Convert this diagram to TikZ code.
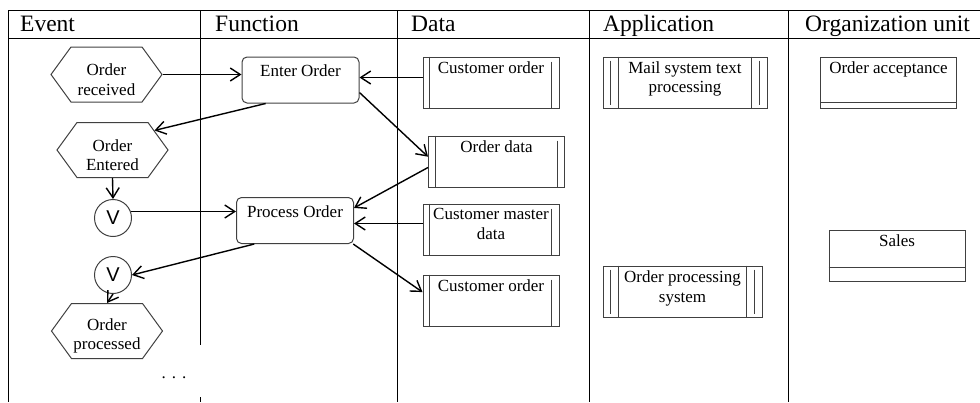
\documentclass[tikz,border=0pt]{standalone}
\usepackage{fontspec}
\setmainfont{Liberation Serif}
\newfontfamily\vfont{Liberation Sans}
\usetikzlibrary{arrows.meta,shapes.symbols}

\begin{document}
\begin{tikzpicture}[x=1pt,y=-1pt,
    every node/.style={font=\fontsize{17}{19.5}\selectfont},
    head/.style={anchor=base west,inner sep=0pt,font=\fontsize{23.5}{28}\selectfont},
    lane/.style={line width=1pt},
    outline/.style={draw=black!75,line width=1pt},
    boxtext/.style={anchor=north,inner sep=5pt,align=center},
    evtext/.style={anchor=center,yshift=-5pt,inner sep=0pt,align=center},
    event/.style={outline,shape=signal,signal to=west and east,signal pointer angle=108,
        minimum width=111pt,minimum height=55pt,inner sep=0pt},
    andop/.style={outline,circle,minimum size=37pt,inner sep=0pt,font=\vfont\fontsize{20}{20}\selectfont},
    func/.style={outline,rounded corners=5pt,minimum width=117pt,minimum height=46pt},
    datum/.style={outline,minimum width=136pt,minimum height=51pt},
    app/.style={outline,minimum height=51pt},
    org/.style={outline,minimum width=136pt,minimum height=51pt},
    link/.style={-{Straight Barb[length=10pt,width=13pt]},line width=1.4pt},
]
    \useasboundingbox (0,0) rectangle (980,402);

    % lanes
    \draw [lane] (8,10) -- (980,10);
    \draw [lane] (8,38) -- (980,38);
    \draw [lane] (8,10) -- (8,402);
    \draw [lane] (200,10) -- (200,345) (200,397) -- (200,402);
    \foreach \x in {397,589,788}
        \draw [lane] (\x,10) -- (\x,402);

    \node [head] (hevent) at (20,31) {Event};
    \node [head] (hfunc) at (215,31) {Function};
    \node [head] (hdata) at (411,31) {Data};
    \node [head] (happ) at (603,31) {Application};
    \node [head] (horg) at (805,31) {Organization unit};

    % events
    \node [event,label={[evtext]center:Order\\received}] (received) at (106.5,74.5) {};
    \node [event,label={[evtext]center:Order\\Entered}] (entered) at (112.5,150) {};
    \node [andop] (and1) at (113,218) {V};
    \node [andop] (and2) at (113,275) {V};
    \node [event,label={[evtext]center:Order\\processed}] (processed) at (107,331) {};
    \node (more) at (174,378) {.\hspace{6pt}.\hspace{6pt}.};

    % functions
    \node [func,label={[boxtext,inner sep=8pt]north:Enter Order}] (enter) at (300.5,80) {};
    \node [func,label={[boxtext,inner sep=8pt]north:Process Order}] (process) at (295,220.5) {};

    % data
    \node [datum,label={[boxtext]north:Customer order}] (custorder) at (491,82.5) {};
    \node [datum,label={[boxtext]north:Order data}] (orderdata) at (496.5,161.5) {};
    \node [datum,label={[boxtext]north:Customer master\\data}] (master) at (491,229.5) {};
    \node [datum,label={[boxtext]north:Customer order}] (custorder2) at (491,300.5) {};
    \foreach \b in {custorder,orderdata,master,custorder2}
        \draw [outline] ([xshift=7pt]\b.north west) -- ([xshift=7pt]\b.south west)
            ([xshift=-8pt,yshift=-5pt]\b.north east) -- ([xshift=-8pt]\b.south east);

    % applications
    \node [app,minimum width=164pt,label={[boxtext]north:Mail system text\\processing}] (mail) at (685,82.5) {};
    \node [app,minimum width=159pt,label={[boxtext]north:Order processing\\system}] (ops) at (682.5,291.5) {};
    \foreach \b in {mail,ops}
        \draw [outline] ([xshift=8pt,yshift=-4pt]\b.north west) -- ([xshift=8pt,yshift=4pt]\b.south west)
            ([xshift=16pt]\b.north west) -- ([xshift=16pt]\b.south west)
            ([xshift=-16pt]\b.north east) -- ([xshift=-16pt]\b.south east)
            ([xshift=-8pt,yshift=-4pt]\b.north east) -- ([xshift=-8pt,yshift=4pt]\b.south east);

    % organization units
    \node [org,label={[boxtext]north:Order acceptance}] (accept) at (888.5,82.5) {};
    \node [org,label={[boxtext]north:Sales}] (sales) at (897,255.5) {};
    \foreach \b/\d in {accept/6,sales/14}
        \draw [outline] ([yshift=\d pt]\b.south west) -- ([yshift=\d pt]\b.south east);

    % flow
    \draw [link] (received.east) -- (received.east -| enter.west);
    \draw [link] ([yshift=5pt]custorder.west) -- ([yshift=5pt]custorder.west -| enter.east);
    \draw [link] (enter.214) -- (entered.25);
    \draw [link] (entered.south) -- (and1.north);
    \draw [link] (enter.-12) -- (orderdata.176);
    \draw [link] (orderdata.185) -- (process.12);
    \draw [link] ([yshift=6pt]master.west) -- ([yshift=6pt]master.west -| process.east);
    \draw [link] (and1.20) -- (and1.20 -| process.west);
    \draw [link] (process.-22) -- (custorder2.173);
    \draw [link] (process.210) -- (and2.east);
    \draw [link] (and2.south) -- (processed.north);
\end{tikzpicture}
\end{document}
